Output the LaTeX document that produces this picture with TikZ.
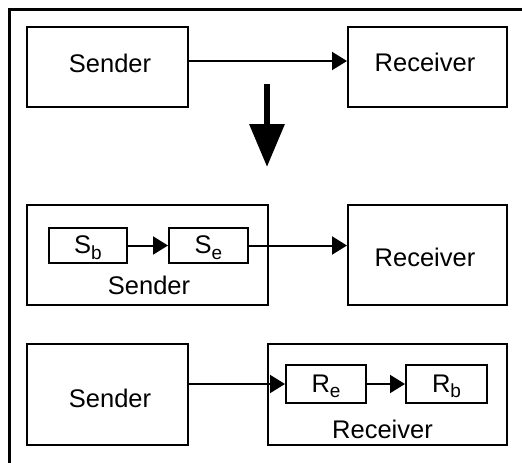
\documentclass[tikz,border=0pt]{standalone}
\usepackage{fontspec}
\setmainfont{Liberation Sans}
\usetikzlibrary{arrows.meta,calc}
\newcommand{\subtxt}[2]{#1\raisebox{-5.5pt}{\fontsize{19}{19}\selectfont #2}}
\begin{document}
\begin{tikzpicture}[x=1pt,y=-1pt,
  blk/.style 2 args={draw,line width=2pt,minimum width=#1pt,minimum height=#2pt,inner sep=0pt},
  txt/.style={inner sep=0pt,font=\fontsize{25.5}{30}\selectfont},
  conn/.style={line width=2pt,-{Triangle[length=15pt,width=18pt]}},
  bigarrow/.style={line width=6.5pt,-{Triangle[length=43pt,width=34pt]}}]
\useasboundingbox (0,0) rectangle (522,463);
% outer frame, open to the right and bottom
\draw[line width=2.6pt] (9.5,470) -- (9.5,9.5) -- (530,9.5);

% plain sender / receiver
\node[blk={161}{80}] (s1) at (107.5,67) {};
\node[blk={159}{80}] (r1) at (427.5,67) {};
\node[txt] (s1t) at (110,63) {Sender};
\node[txt] (r1t) at (425,62.5) {Receiver};
\draw[conn] ([yshift=6pt]s1.east) -- ([yshift=6pt]r1.west);

% refinement arrow
\coordinate (dtop) at (267,84);
\coordinate (dbot) at (267,167);
\draw[bigarrow] (dtop) -- (dbot);

% sender split into S_b and S_e
\node[blk={241}{100}] (s2) at (147.5,255) {};
\node[blk={78}{35}] (sb) at (88,245.5) {};
\node[blk={79}{35}] (se) at (208.5,245.5) {};
\node[txt] (sbt) at (88,247.5) {\subtxt{S}{b}};
\node[txt] (set) at (208.5,247.5) {\subtxt{S}{e}};
\node[txt] (s2t) at (149,285) {Sender};
\node[blk={159}{100}] (r2) at (427.5,255) {};
\node[txt] (r2t) at (425,257) {Receiver};
\draw[conn] (sb) -- (se);
\draw[conn] (se.east) -- (se.east -| r2.west);

% receiver split into R_e and R_b
\node[blk={161}{101}] (s3) at (107.5,394.5) {};
\node[txt] (s3t) at (110,398) {Sender};
\node[blk={239}{101}] (r3) at (387.5,394.5) {};
\node[blk={80}{38}] (re) at (326,384) {};
\node[blk={81}{38}] (rb) at (446.5,384) {};
\node[txt] (ret) at (326,386.5) {\subtxt{R}{e}};
\node[txt] (rbt) at (446.5,386.5) {\subtxt{R}{b}};
\node[txt] (r3t) at (382.5,429.5) {Receiver};
\draw[conn] (re.west -| s3.east) -- (re.west);
\draw[conn] (re) -- (rb);
\end{tikzpicture}
\end{document}
